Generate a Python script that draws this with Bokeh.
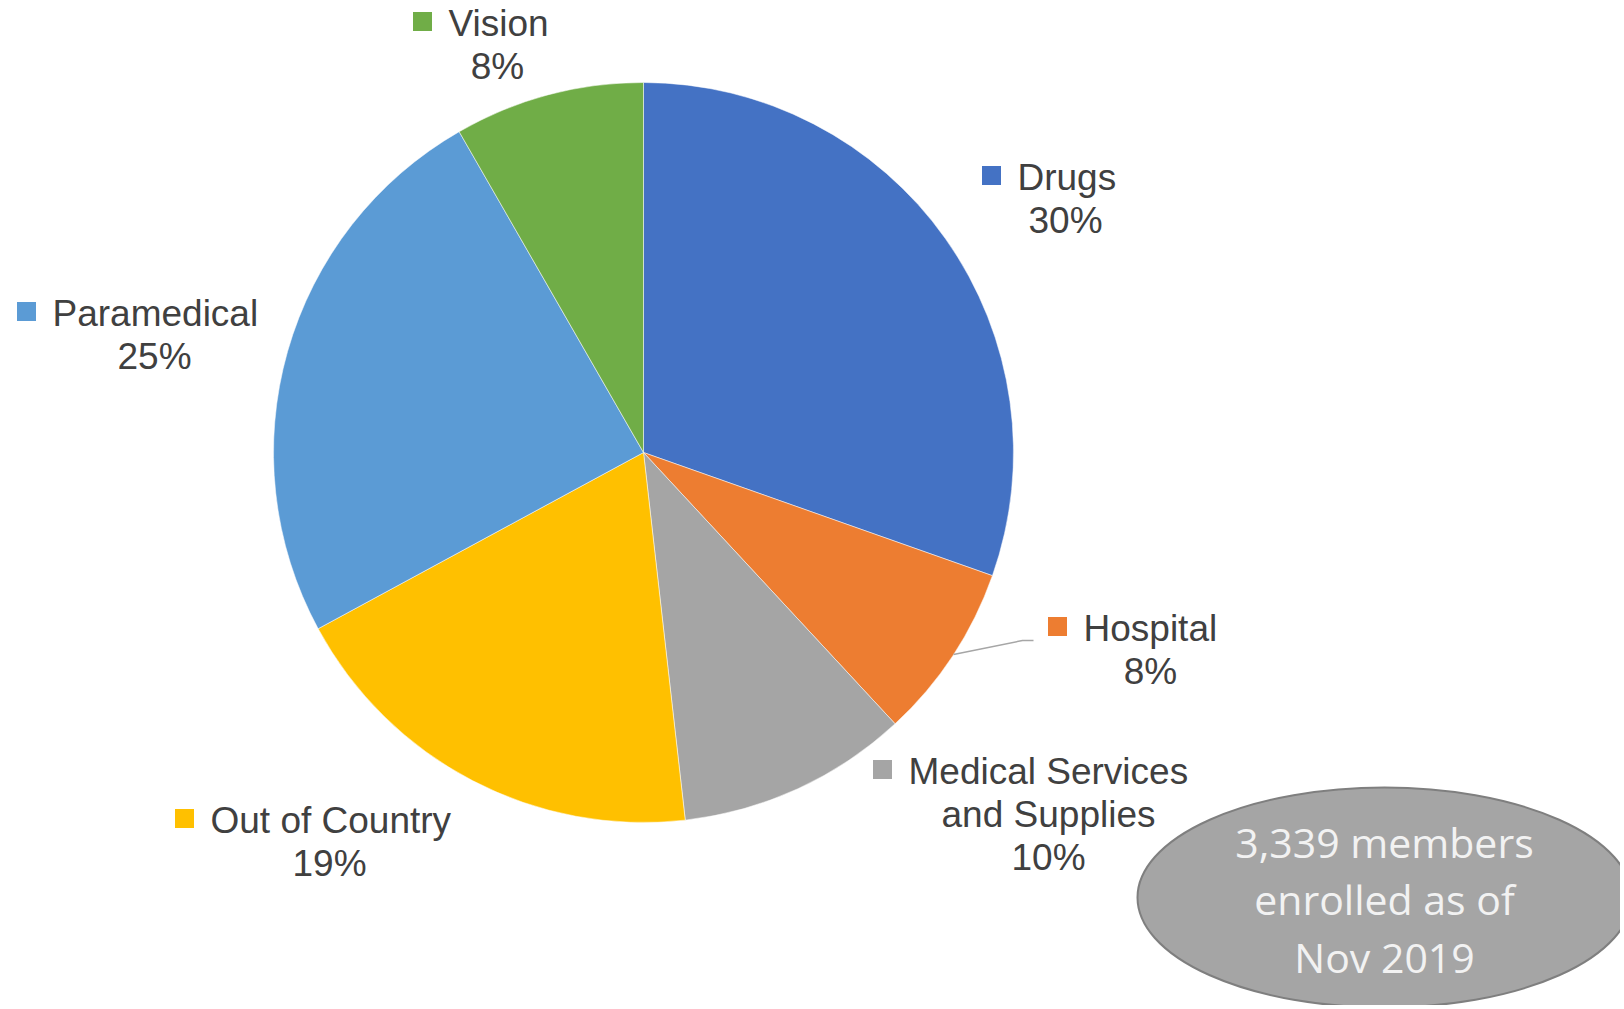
import numpy as np
from bokeh.plotting import figure
from bokeh.models import Range1d
from bokeh.core.properties import value
from bokeh.embed import file_html
from bokeh.resources import INLINE

# ---------------- data ----------------
categories = ["Drugs", "Hospital", "Medical Services and Supplies",
              "Out of Country", "Paramedical", "Vision"]
values = [30.4, 7.7, 10.1, 18.9, 24.6, 8.3]
pct_labels = ["30%", "8%", "10%", "19%", "25%", "8%"]
name_lines = [["Drugs"], ["Hospital"], ["Medical Services", "and Supplies"],
              ["Out of Country"], ["Paramedical"], ["Vision"]]
colors = ["#4472C4", "#ED7D31", "#A5A5A5", "#FFC000", "#5B9BD5", "#70AD47"]
note_lines = ["3,339 members", "enrolled as of", "Nov 2019"]

# ---------------- layout (page pixels) ----------------
W, H = 1620, 1005
OX, OY = 0, 0   # page offset of the canvas
CX, CY, R = 643, 452, 370
# (first-line text start x, centre x of text block, first baseline y)
label_pos = [
    (1017, 1065, 189),
    (1083, 1150, 640),
    (908, 1048, 783),
    (210, 329, 832),
    (52, 154, 325),
    (448, 497, 35),
]
LINE_H = 43
TEXT_SHIFT = 12.5     # renderer baseline correction
FONT = value("Liberation Sans")
FSIZE = value("37px")
TCOL = "#404040"

p = figure(width=W, height=H, output_backend="svg", toolbar_location=None,
           x_range=Range1d(OX, OX + W), y_range=Range1d(-(OY + H), -OY),
           x_axis_location=None, y_axis_location=None,
           min_border=0, min_border_left=0, min_border_right=0,
           min_border_top=0, min_border_bottom=0)
p.outline_line_color = None
p.grid.visible = False
p.background_fill_color = "white"
p.border_fill_color = "white"

# pie
frac = np.array(values) / np.sum(values)
cum = np.concatenate([[0.0], np.cumsum(frac)])
start = np.pi / 2 - 2 * np.pi * cum[:-1]
end = np.pi / 2 - 2 * np.pi * cum[1:]
p.wedge(x=CX, y=-CY, radius=R, start_angle=start, end_angle=end,
        direction="clock", fill_color=colors, line_color="white", line_width=0.5)

# leader line for Hospital
p.line(x=[953, 1022, 1033], y=[-654, -640, -640], line_color="#A6A6A6", line_width=1.5)

# labels
for i, cat in enumerate(categories):
    tx, cx, by = label_pos[i]
    lines = name_lines[i]
    # key square
    p.scatter(x=[tx - 26], y=[-(by - 14)], marker="square", size=19,
              fill_color=colors[i], line_color=None)
    ty = by - TEXT_SHIFT
    # first line left aligned
    p.text(x=[tx], y=[-ty], text=[lines[0]], text_align="left",
           text_baseline="alphabetic", text_font=FONT, text_font_size=FSIZE,
           text_color=TCOL)
    rest = lines[1:] + [pct_labels[i]]
    for j, t in enumerate(rest):
        p.text(x=[cx], y=[-(ty + LINE_H * (j + 1))], text=[t], text_align="center",
               text_baseline="alphabetic", text_font=FONT, text_font_size=FSIZE,
               text_color=TCOL)

# note ellipse
p.ellipse(x=1384, y=-897, width=494, height=220, fill_color="#A5A5A5",
          line_color="#7F7F7F", line_width=2)
note_y = [841.5, 898.5, 956.5]
p.text(x=[1384] * 3, y=[-v for v in note_y], text=note_lines, text_align="center",
       text_baseline="alphabetic", text_font=value("Open Sans"),
       text_font_size=value("41px"), text_color="#F2F2F2")

open("out.html", "w").write(file_html(p, INLINE))
